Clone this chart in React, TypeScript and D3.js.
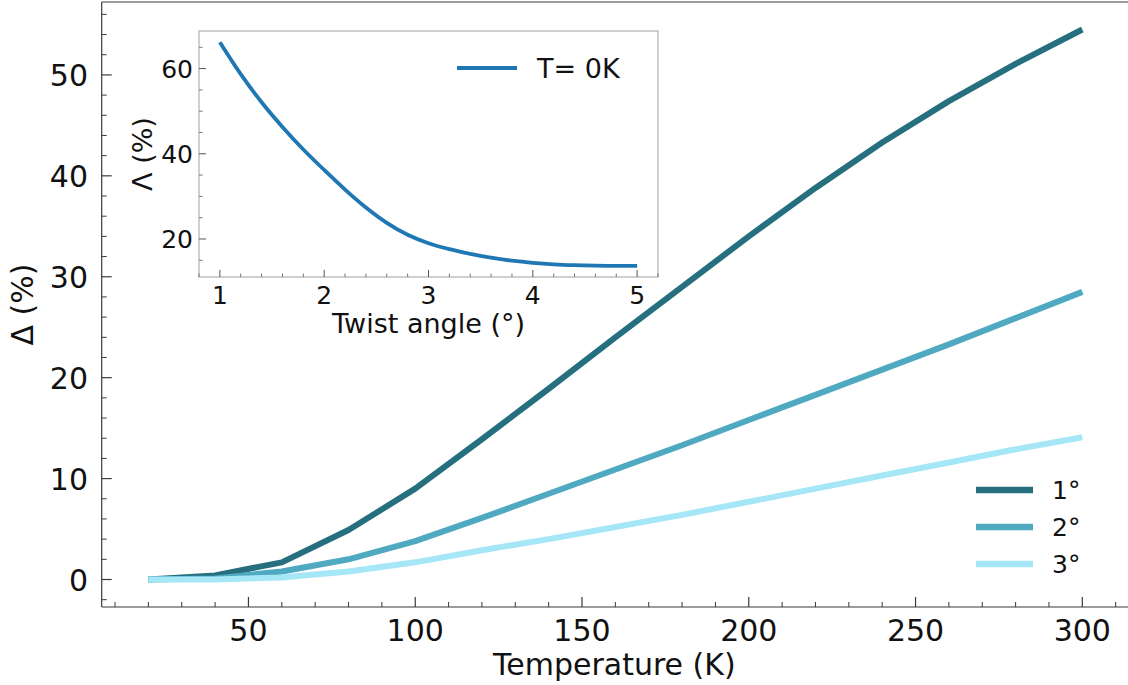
import React from "react";
import * as d3 from "d3";

const temperatures = [20, 40, 60, 80, 100, 120, 140, 160, 180, 200, 220, 240, 260, 280, 300];
const delta1 = [0.0, 0.4, 1.7, 4.9, 9.0, 13.9, 18.9, 24.0, 29.0, 34.0, 38.8, 43.3, 47.4, 51.1, 54.5];
const delta2 = [0.0, 0.1, 0.8, 2.0, 3.8, 6.1, 8.5, 10.9, 13.3, 15.8, 18.3, 20.8, 23.3, 25.9, 28.5];
const delta3 = [0.0, 0.0, 0.2, 0.8, 1.7, 2.9, 4.0, 5.2, 6.4, 7.7, 9.0, 10.3, 11.6, 12.9, 14.1];
const seriesNames = ["1°", "2°", "3°"];
const seriesColors = ["#256f7f", "#4ea9c1", "#a6e7f7"];

const twistAngles = [1.0, 1.2, 1.4, 1.6, 1.8, 2.0, 2.2, 2.4, 2.6, 2.8, 3.0, 3.2, 3.4, 3.6, 3.8, 4.0, 4.2, 4.4, 4.6, 4.8, 5.0];
const lambda0K = [66.2, 58.7, 52.1, 46.3, 41.0, 36.2, 31.6, 27.4, 23.8, 21.0, 19.0, 17.6, 16.5, 15.6, 14.9, 14.4, 14.05, 13.85, 13.75, 13.7, 13.7];
const insetLegend = "T= 0K";

const xTicks = [50, 100, 150, 200, 250, 300];
const yTicks = [0, 10, 20, 30, 40, 50];
const insetXTicks = [1, 2, 3, 4, 5];
const insetYTicks = [20, 40, 60];

const FONT = "'DejaVu Sans', sans-serif";

function pad(min: number, max: number): [number, number] {
  const m = (max - min) * 0.05;
  return [min - m, max + m];
}

export default function App() {
  const W = 1128, H = 685;
  const L = 101.7, R = 1129, T = 2, B = 607;
  const x = d3.scaleLinear().domain(pad(20, 300)).range([L, R]);
  const yMax = d3.max([...delta1, ...delta2, ...delta3]) as number;
  const y = d3.scaleLinear().domain(pad(0, yMax)).range([B, T]);

  const series = [delta1, delta2, delta3];
  const line = d3.line<number>().x((_, i) => x(temperatures[i])).y((d) => y(d));

  const iL = 199, iR = 658, iT = 31, iB = 277;
  const ix = d3.scaleLinear().domain(pad(1, 5)).range([iL, iR]);
  const iy = d3.scaleLinear().domain(pad(d3.min(lambda0K) as number, d3.max(lambda0K) as number)).range([iB, iT]);
  const iline = d3.line<number>().x((_, i) => ix(twistAngles[i])).y((d) => iy(d)).curve(d3.curveMonotoneX);

  const xMinor = d3.range(10, 314, 10).filter((v) => v % 50 !== 0 && x(v) > L);
  const yMinor = d3.range(-2, 58, 2).filter((v) => v % 10 !== 0 && y(v) <= B && y(v) >= T);
  const ixMinor = d3.range(0.8, 5.21, 0.2).map((v) => Math.round(v * 10) / 10).filter((v) => Math.abs(v - Math.round(v)) > 0.01);
  const iyMinor = d3.range(15, 70, 5).filter((v) => v % 20 !== 0 && iy(v) >= iT && iy(v) <= iB);

  const spine = "#3a3a3a";
  const iSpine = "#b0b0b0";

  return (
    <svg width={W} height={H} style={{ position: "absolute", left: 0, top: 0, background: "#fff" }} fontFamily={FONT}>
      <rect x={0} y={0} width={W} height={H} fill="#fff" />
      {series.map((s, k) => (
        <path key={k} d={line(s) || ""} fill="none" stroke={seriesColors[k]} strokeWidth={6} strokeLinejoin="round" />
      ))}
      <line x1={L} x2={R} y1={T} y2={T} stroke={spine} strokeWidth={1.2} />
      <line x1={L} x2={L} y1={T} y2={B} stroke={spine} strokeWidth={1.2} />
      <line x1={L} x2={R} y1={B} y2={B} stroke={spine} strokeWidth={1.2} />
      {xTicks.map((t) => (
        <g key={"xt" + t}>
          <line x1={x(t)} x2={x(t)} y1={B} y2={B - 10} stroke={spine} strokeWidth={1.2} />
          <text x={x(t)} y={641} textAnchor="middle" fontSize={30} fill="#111">{t}</text>
        </g>
      ))}
      {xMinor.map((t) => (
        <line key={"xm" + t} x1={x(t)} x2={x(t)} y1={B} y2={B - 5} stroke={spine} strokeWidth={1} />
      ))}
      {yTicks.map((t) => (
        <g key={"yt" + t}>
          <line x1={L} x2={L + 10} y1={y(t)} y2={y(t)} stroke={spine} strokeWidth={1.2} />
          <text x={88} y={y(t) + 11.5} textAnchor="end" fontSize={30} fill="#111">{t}</text>
        </g>
      ))}
      {yMinor.map((t) => (
        <line key={"ym" + t} x1={L} x2={L + 5} y1={y(t)} y2={y(t)} stroke={spine} strokeWidth={1} />
      ))}
      <text x={(L + R) / 2 - 1} y={675} textAnchor="middle" fontSize={30} fill="#111">Temperature (K)</text>
      <text transform={`translate(33, ${(T + B) / 2}) rotate(-90)`} textAnchor="middle" fontSize={30} fill="#111">Δ (%)</text>

      {seriesNames.map((n, k) => (
        <g key={"lg" + k}>
          <line x1={976} x2={1033} y1={490 + k * 37} y2={490 + k * 37} stroke={seriesColors[k]} strokeWidth={6.5} />
          <text x={1052} y={498.5 + k * 37} fontSize={25} fill="#111">{n}</text>
        </g>
      ))}

      <rect x={iL} y={iT} width={iR - iL} height={iB - iT} fill="#fff" stroke={iSpine} strokeWidth={1.2} />
      <path d={iline(lambda0K) || ""} fill="none" stroke="#1f77b4" strokeWidth={3.8} strokeLinejoin="round" />
      {insetXTicks.map((t) => (
        <g key={"ixt" + t}>
          <line x1={ix(t)} x2={ix(t)} y1={iB} y2={iB - 7} stroke="#555" strokeWidth={1} />
          <text x={ix(t)} y={304} textAnchor="middle" fontSize={25} fill="#111">{t}</text>
        </g>
      ))}
      {ixMinor.map((t) => (
        <line key={"ixm" + t} x1={ix(t)} x2={ix(t)} y1={iB} y2={iB - 3.5} stroke="#777" strokeWidth={1} />
      ))}
      {insetYTicks.map((t) => (
        <g key={"iyt" + t}>
          <line x1={iL} x2={iL + 7} y1={iy(t)} y2={iy(t)} stroke="#555" strokeWidth={1} />
          <text x={193} y={iy(t) + 9.5} textAnchor="end" fontSize={25} fill="#111">{t}</text>
        </g>
      ))}
      {iyMinor.map((t) => (
        <line key={"iym" + t} x1={iL} x2={iL + 3.5} y1={iy(t)} y2={iy(t)} stroke="#777" strokeWidth={1} />
      ))}
      <text x={(iL + iR) / 2} y={333} textAnchor="middle" fontSize={27} fill="#111">Twist angle (°)</text>
      <text transform={`translate(152, ${(iT + iB) / 2}) rotate(-90)`} textAnchor="middle" fontSize={27} fill="#111">Λ (%)</text>
      <line x1={457} x2={517} y1={68} y2={68} stroke="#1f77b4" strokeWidth={3.8} />
      <text x={537} y={77.5} fontSize={27} fill="#111">{insetLegend}</text>
    </svg>
  );
}
